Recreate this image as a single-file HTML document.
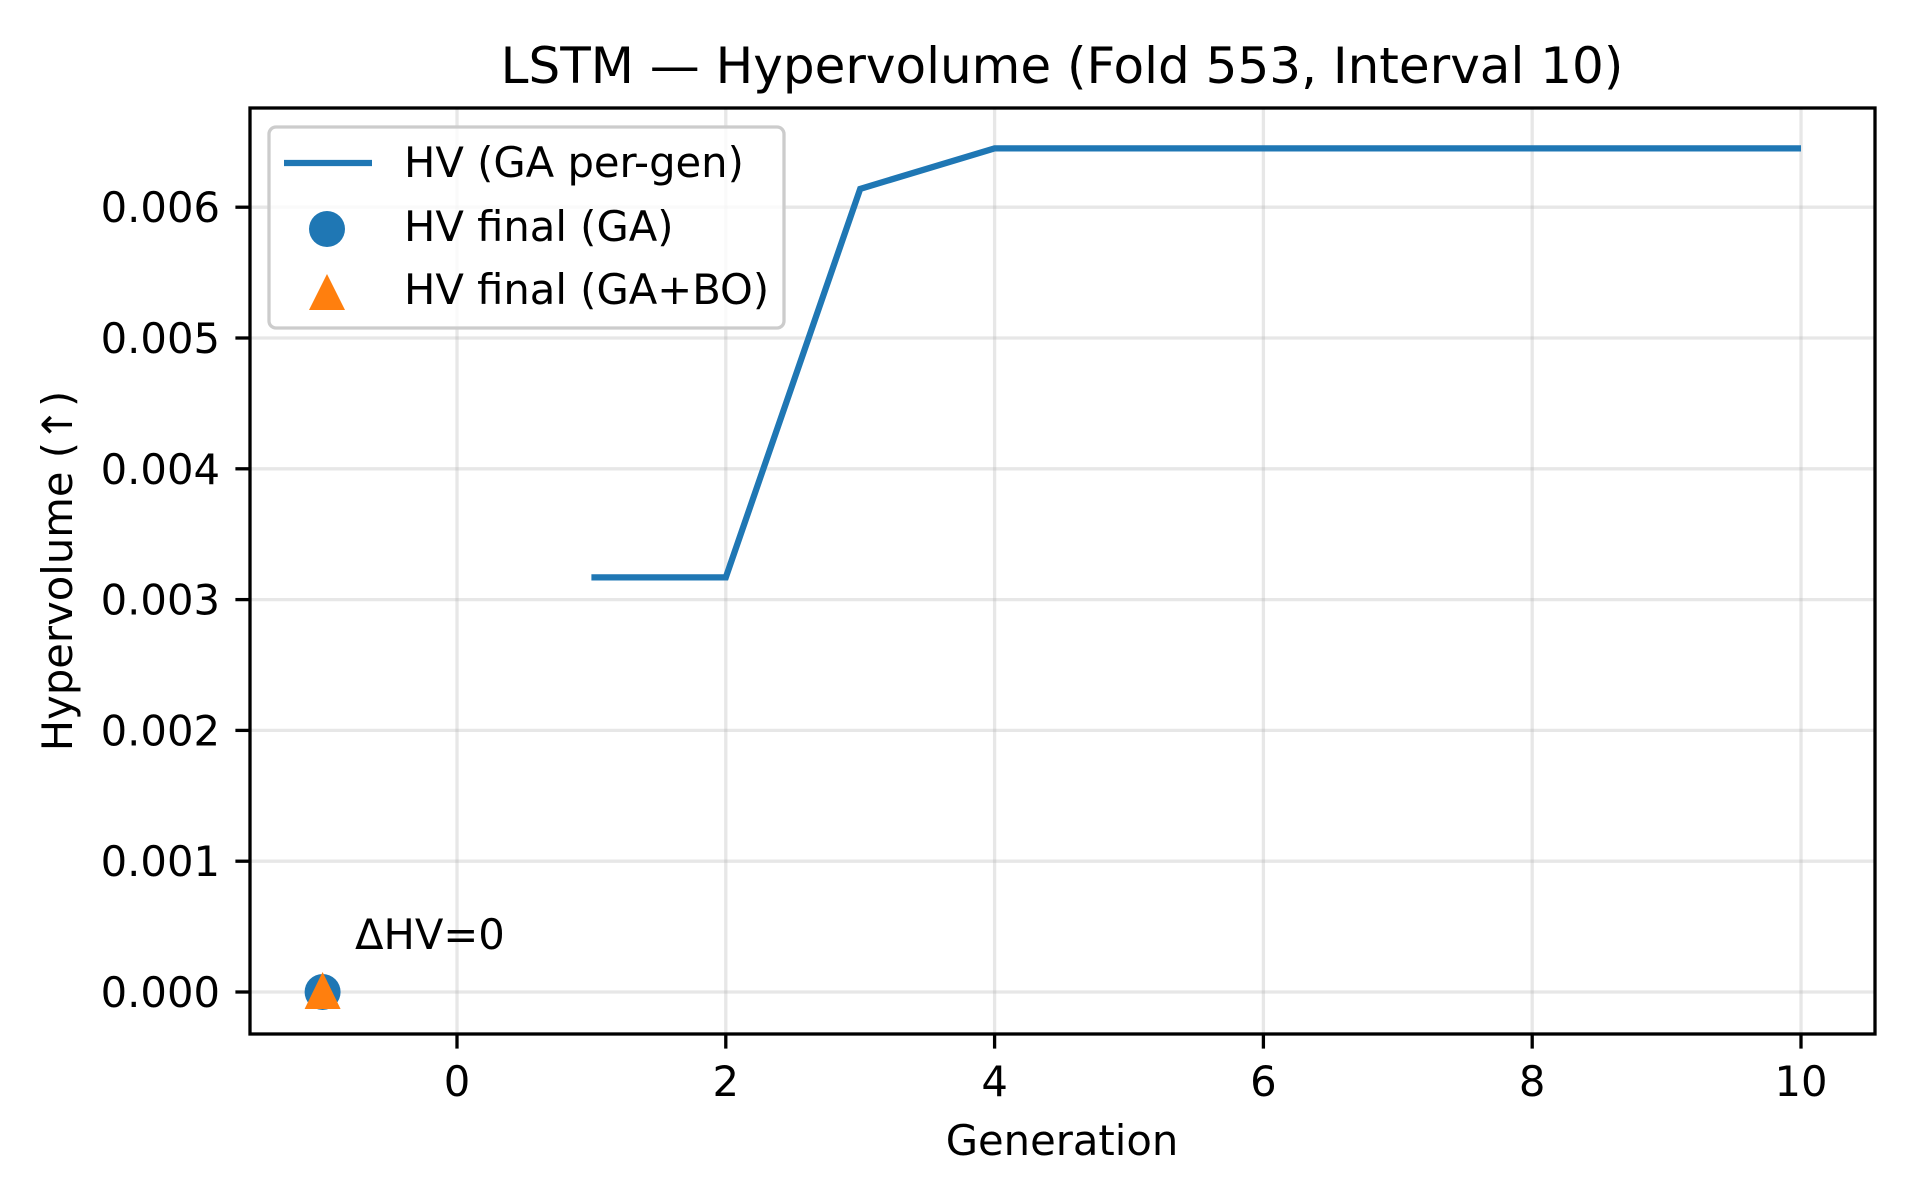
<!DOCTYPE html>
<html><head><meta charset="utf-8"><style>body{margin:0;background:#fff}svg{display:block;font-family:"DejaVu Sans","Liberation Sans",sans-serif}</style></head>
<body>
<svg id="chart" width="1920" height="1200" viewBox="0 0 1920 1200"></svg>
<script>
const generations=[1,2,3,4,5,6,7,8,9,10];
const hvPerGen=[0.00317,0.00317,0.00614,0.00645,0.00645,0.00645,0.00645,0.00645,0.00645,0.00645];
const finalGA=[-1,0];
const finalGABO=[-1,0];
const xTicks=[0,2,4,6,8,10];
const yTicks=[0,0.001,0.002,0.003,0.004,0.005,0.006];
const yTickLabels=["0.000","0.001","0.002","0.003","0.004","0.005","0.006"];
const L=250,R=1875,T=108,B=1034;
const sx=v=>457+v*134.4;
const sy=v=>992-v*130800;
const svg=document.getElementById('chart');
const NS='http://www.w3.org/2000/svg';
function mk(tag,attrs,parent){const e=document.createElementNS(NS,tag);for(const k in attrs)e.setAttribute(k,attrs[k]);(parent||svg).appendChild(e);return e;}
xTicks.forEach(t=>{const g=mk('line',{x1:sx(t),x2:sx(t),y1:T,y2:B,stroke:'#b0b0b0','stroke-opacity':0.3,'stroke-width':3.3});

});
yTicks.forEach(t=>{const g=mk('line',{x1:L,x2:R,y1:sy(t),y2:sy(t),stroke:'#b0b0b0','stroke-opacity':0.3,'stroke-width':3.3});

});
const pl=mk('polyline',{points:generations.map((g,i)=>sx(g)+','+sy(hvPerGen[i])).join(' '),fill:'none',stroke:'#1f77b4','stroke-width':6.25,'stroke-linejoin':'miter'});


const c=mk('circle',{cx:sx(finalGA[0]),cy:sy(finalGA[1]),r:18,fill:'#1f77b4'});


const tx=sx(finalGABO[0]),ty=sy(finalGABO[1]);
const tr=mk('polygon',{points:`${tx},${ty-20} ${tx-18},${ty+17} ${tx+18},${ty+17}`,fill:'#ff7f0e'});


const fr=mk('rect',{x:L,y:T,width:R-L,height:B-T,fill:'none',stroke:'#000','stroke-width':3.3});


xTicks.forEach(t=>{mk('line',{x1:sx(t),x2:sx(t),y1:B,y2:B+14.6,stroke:'#000','stroke-width':3.3});
const l=mk('text',{x:sx(t),y:1096,'font-size':41.7,'text-anchor':'middle'});l.textContent=t;

});
yTicks.forEach((t,i)=>{mk('line',{x1:L-14.6,x2:L,y1:sy(t),y2:sy(t),stroke:'#000','stroke-width':3.3});
const l=mk('text',{x:L-30,y:sy(t)+15,'font-size':41.7,'text-anchor':'end'});l.textContent=yTickLabels[i];

});
</script>
<svg style="position:absolute;left:0;top:0" width="1920" height="1200">
<text x="1062" y="83" font-size="50" text-anchor="middle">LSTM — Hypervolume (Fold 553, Interval 10)</text>
<text x="1062" y="1155" font-size="41.7" text-anchor="middle">Generation</text>
<text transform="translate(72,571) rotate(-90)" font-size="41.7" text-anchor="middle">Hypervolume (↑)</text>
<text x="355" y="949" font-size="41.7">ΔHV=0</text>
<g>
<rect x="269" y="127" width="515" height="201" rx="7" fill="#fff" fill-opacity="0.8" stroke="#ccc" stroke-width="3.3"/>
<line x1="284" x2="372" y1="163" y2="163" stroke="#1f77b4" stroke-width="6.25"/>
<text x="404" y="177" font-size="41.7">HV (GA per-gen)</text>
<circle cx="327" cy="229" r="18" fill="#1f77b4"/>
<text x="404" y="241" font-size="41.7">HV final (GA)</text>
<polygon points="327,274 309,310 345,310" fill="#ff7f0e"/>
<text x="404" y="304" font-size="41.7">HV final (GA+BO)</text>
</g>
</svg>
</body></html>
